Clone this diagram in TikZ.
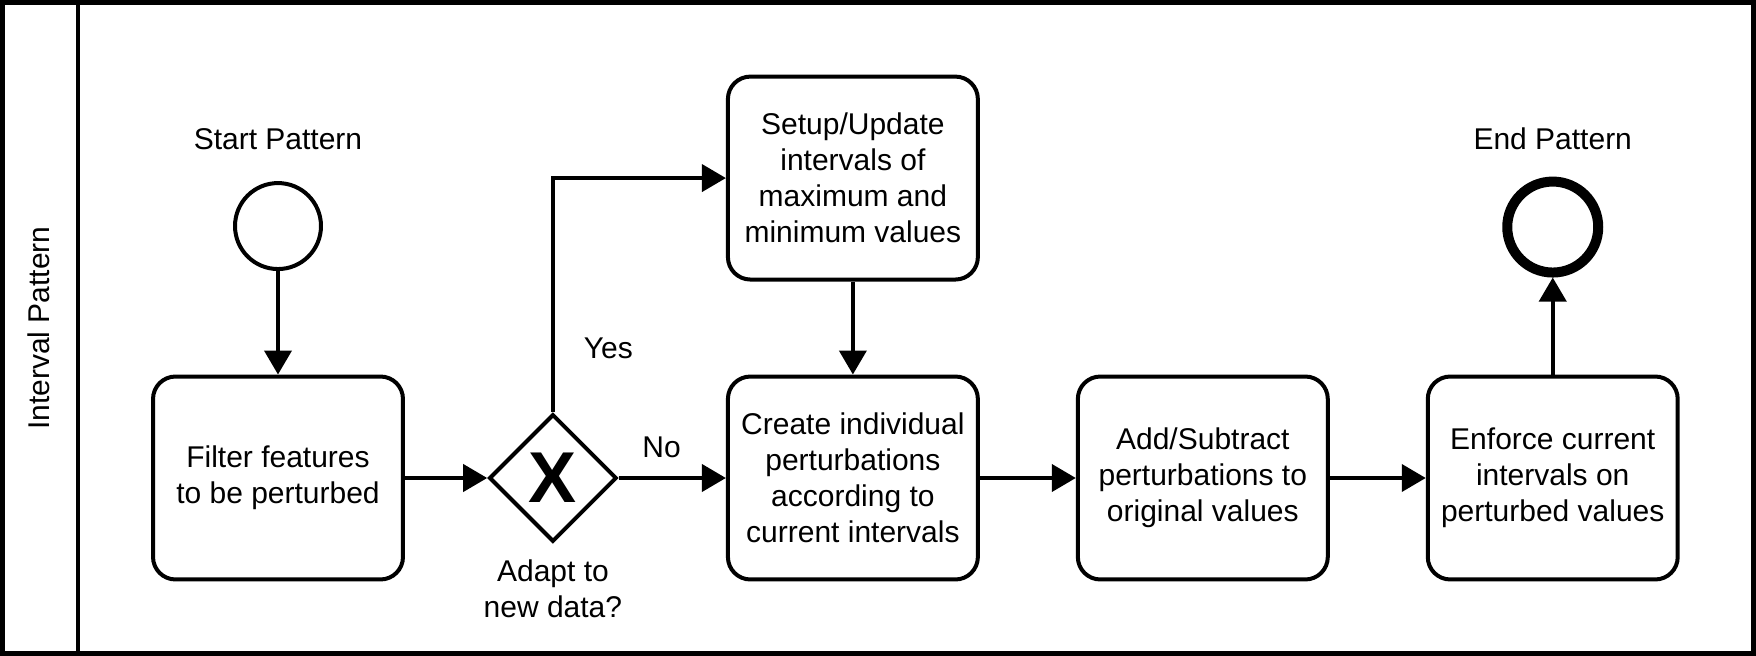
\documentclass[tikz,border=0pt]{standalone}
\usepackage{fontspec}
\setmainfont{Liberation Sans}
\usepackage{tikz}
\usetikzlibrary{positioning}
\usetikzlibrary{arrows.meta}
\usetikzlibrary{shapes.geometric}

\begin{document}
\begin{tikzpicture}[
            x = 0.02cm, y = -0.02cm, % one unit per pixel
            > = {Triangle[length=0.48cm, width=0.54cm]}, % arrow head style
            line width = 0.08cm, % line style
            node distance = 5.5cm, % distance between nodes
            font = \fontsize{17.07}{20.5}\selectfont
        ]

        \tikzstyle{task}=[
            draw,
            rounded corners = 0.45cm,
            align = center,
            minimum width = 5cm,
            minimum height = 4.06cm,
            inner sep = 0pt
        ]
        \tikzstyle{event}=[draw, circle, minimum size = 1.72cm, inner sep = 0pt]
        \tikzstyle{gateway}=[draw, diamond, aspect = 1, minimum size = 2.55cm, inner sep = 0pt,
            font = \fontsize{41}{41}\selectfont\bfseries]
        \tikzstyle{caption}=[align = center, inner sep = 0pt]

        \useasboundingbox (0,0) rectangle (1756,656);

        % pool and lane
        \draw[line width = 0.1cm] (2.5,2.5) rectangle (1753.5,653.5);
        \draw (78,2.5) -- (78,653.5);
        \node[caption, rotate = 90] (lane) at (39,328) {Interval Pattern};

        % tasks
        \node[task] (filter) at (278,478) {Filter features\\to be perturbed};
        \node[gateway] (adapt) [right of = filter] {X};
        \node[task] (create) [right of = adapt, node distance = 6cm] {Create individual\\perturbations\\according to\\current intervals};
        \node[task] (setup) [above of = create, node distance = 6cm] {Setup/Update\\intervals of\\maximum and\\minimum values};
        \node[task] (add) [right of = create, node distance = 7cm] {Add/Subtract\\perturbations to\\original values};
        \node[task] (enforce) [right of = add, node distance = 7cm] {Enforce current\\intervals on\\perturbed values};

        % events
        \node[event] (start) [above of = filter, node distance = 5.04cm] {};
        \node[event, line width = 0.2cm, minimum size = 1.82cm] (stop) [above of = enforce, node distance = 5.02cm] {};

        \node[caption] (startlabel) [above of = start, node distance = 1.74cm] {Start Pattern};
        \node[caption] (stoplabel) [above of = stop, node distance = 1.76cm] {End Pattern};
        \node[caption] (adaptlabel) [below of = adapt, node distance = 2.22cm] {Adapt to\\new data?};

        % flows
        \path[->] (start) edge (filter);
        \path[->] (filter) edge (adapt);
        \draw[->] (adapt.north) |- node[caption, pos = 0.137, right = 0.58cm] {Yes} (setup.west);
        \draw[->] (adapt) -- node[caption, pos = 0.4, above = 0.36cm] {No} (create);
        \path[->] (setup) edge (create);
        \path[->] (create) edge (add);
        \path[->] (add) edge (enforce);
        \path[->] (enforce) edge (stop);

\end{tikzpicture}
\end{document}
